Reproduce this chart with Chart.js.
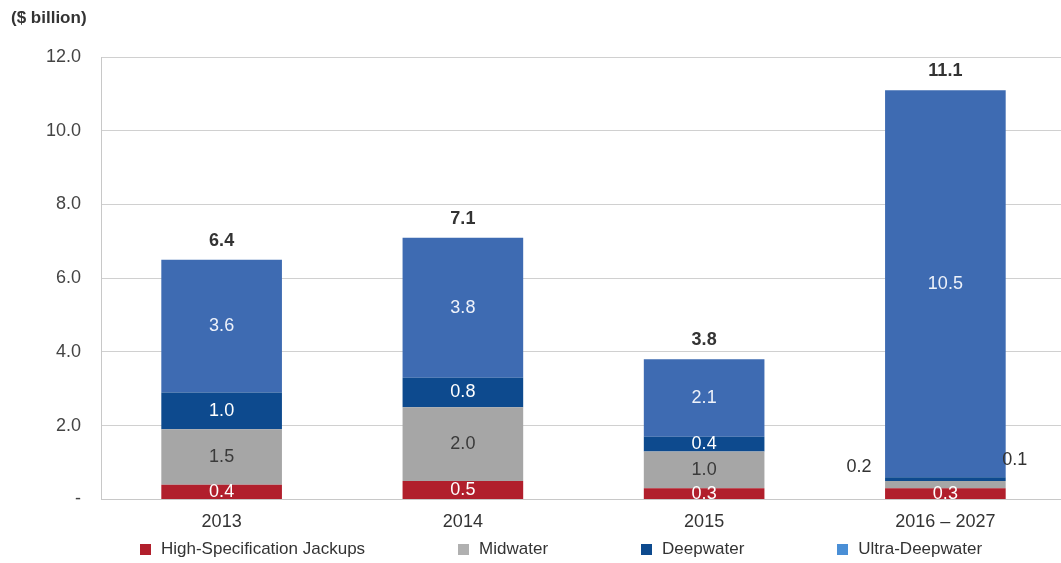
<!DOCTYPE html>
<html lang="en">
<head>
  <meta charset="UTF-8" />
  <title>Rig spending</title>
  <script src="https://cdn.jsdelivr.net/npm/chart.js@4.4.0/dist/chart.umd.min.js"></script>
  <style>
    html, body {
      margin: 0;
      padding: 0;
      background: #ffffff;
      overflow: hidden;
    }
    .wrap {
      position: relative;
      width: 1066px;
      height: 563px;
    }
    #legend {
      position: absolute;
      left: 140px;
      top: 539px;
      display: flex;
      gap: 93px;
      font-family: "Liberation Sans", Arial, sans-serif;
      font-size: 17px;
      color: #333333;
      white-space: nowrap;
    }
    #legend .item {
      display: flex;
      align-items: center;
      gap: 10px;
      line-height: 20px;
    }
    #legend .box {
      width: 11px;
      height: 11px;
    }
  </style>
</head>
<body>
  <div class="wrap">
    <canvas id="rigChart"></canvas>
    <div id="legend"></div>
  </div>

  <script>
    // values in $ billion
    const categories = ['2013', '2014', '2015', '2016 \u2013 2027'];
    const jackups = [0.4, 0.5, 0.3, 0.3];
    const midwater = [1.5, 2.0, 1.0, 0.2];
    const deepwater = [1.0, 0.8, 0.4, 0.1];
    const ultraDeepwater = [3.6, 3.8, 2.1, 10.5];
    const totals = [6.4, 7.1, 3.8, 11.1];

    const FONT = '"Liberation Sans", Arial, sans-serif';

    // numbers inside each segment, and the bold totals above the bars
    const barLabels = {
      id: 'barLabels',
      afterDatasetsDraw(chart) {
        const ctx = chart.ctx;
        ctx.save();
        ctx.textBaseline = 'middle';
        ctx.font = '18px ' + FONT;
        chart.data.datasets.forEach((ds, i) => {
          const meta = chart.getDatasetMeta(i);
          meta.data.forEach((bar, j) => {
            const v = ds.data[j];
            const h = Math.abs(bar.base - bar.y);
            let x = bar.x, y = (bar.y + bar.base) / 2;
            ctx.textAlign = 'center';
            ctx.fillStyle = ds.labelColor;
            // too thin to hold text: put it beside the bar
            if (h < 10 && ds.outside === 'left') {
              x = bar.x - bar.width / 2 - 26;
              y = bar.y - 14;
              ctx.fillStyle = '#333333';
            } else if (h < 10 && ds.outside === 'right') {
              x = bar.x + bar.width / 2 + 9;
              y = bar.y - 17;
              ctx.fillStyle = '#333333';
            }
            ctx.fillText(v.toFixed(1), x, y);
          });
        });
        const top = chart.getDatasetMeta(chart.data.datasets.length - 1);
        ctx.font = 'bold 18px ' + FONT;
        ctx.fillStyle = '#333333';
        ctx.textAlign = 'center';
        top.data.forEach((bar, j) => {
          ctx.fillText(totals[j].toFixed(1), bar.x, bar.y - 19);
        });
        ctx.restore();
      }
    };

    // unit caption in the top-left corner
    const unitCaption = {
      id: 'unitCaption',
      afterDraw(chart) {
        const ctx = chart.ctx;
        ctx.save();
        ctx.font = 'bold 17px ' + FONT;
        ctx.fillStyle = '#333333';
        ctx.textAlign = 'left';
        ctx.textBaseline = 'middle';
        ctx.fillText('($ billion)', 11, 18);
        ctx.restore();
      }
    };

    const datasets = [
      { label: 'High-Specification Jackups', data: jackups, backgroundColor: '#b11f2c', legendColor: '#b11f2c', labelColor: '#ffffff' },
      { label: 'Midwater', data: midwater, backgroundColor: '#a6a6a6', legendColor: '#b0b0b0', labelColor: '#3a3a3a', outside: 'left' },
      { label: 'Deepwater', data: deepwater, backgroundColor: '#0d4a8e', legendColor: '#0d4a8e', labelColor: '#ffffff', outside: 'right' },
      { label: 'Ultra-Deepwater', data: ultraDeepwater, backgroundColor: '#3e6bb2', legendColor: '#4a8fd6', labelColor: '#eef2fa' }
    ];

    // legend as plain html under the axis
    const legendEl = document.getElementById('legend');
    datasets.forEach(ds => {
      const item = document.createElement('div');
      item.className = 'item';
      const box = document.createElement('span');
      box.className = 'box';
      box.style.background = ds.legendColor;
      const txt = document.createElement('span');
      txt.textContent = ds.label;
      item.appendChild(box);
      item.appendChild(txt);
      legendEl.appendChild(item);
    });

    const ctx = document.getElementById('rigChart').getContext('2d');
    new Chart(ctx, {
      type: 'bar',
      data: { labels: categories, datasets: datasets },
      options: {
        responsive: true,
        maintainAspectRatio: false,
        animation: false,
        barPercentage: 0.5,
        categoryPercentage: 1.0,
        layout: { padding: { top: 57, left: 40, right: 0, bottom: 26 } },
        plugins: {
          legend: { display: false },
          tooltip: { enabled: false }
        },
        scales: {
          x: {
            stacked: true,
            grid: { display: false },
            border: { display: true, color: '#c8c8c8' },
            ticks: { color: '#333333', font: { family: FONT, size: 18 }, padding: 4 }
          },
          y: {
            stacked: true,
            min: 0,
            max: 12,
            grid: { color: '#d0d0d0', drawTicks: false },
            border: { display: true, color: '#c8c8c8' },
            ticks: {
              stepSize: 2,
              padding: 20,
              color: '#444444',
              font: { family: FONT, size: 18 },
              callback: v => v === 0 ? '-' : v.toFixed(1)
            },
            afterFit(scale) { scale.width = 61; }
          }
        }
      },
      plugins: [barLabels, unitCaption]
    });
  </script>
</body>
</html>
